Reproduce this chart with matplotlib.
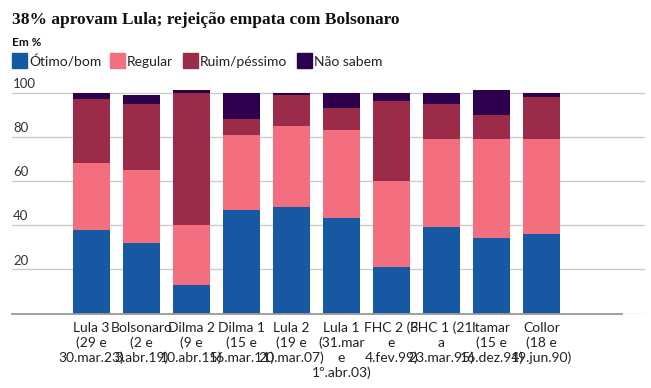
import matplotlib
matplotlib.use("Agg")
import matplotlib.pyplot as plt
from matplotlib.patches import Rectangle
import numpy as np

plt.rcParams['font.family'] = ['Lato', 'DejaVu Sans']

# dados (em %)
labels = ['Lula 3\n(29 e\n30.mar.23)', 'Bolsonaro\n(2 e\n3.abr.19)', 'Dilma 2\n(9 e\n10.abr.15)',
          'Dilma 1\n(15 e\n16.mar.11)', 'Lula 2\n(19 e\n20.mar.07)', 'Lula 1\n(31.mar\ne\n1º.abr.03)',
          'FHC 2 (3\ne\n4.fev.99)', 'FHC 1 (21\na\n23.mar.95)', 'Itamar\n(15 e\n16.dez.94)',
          'Collor\n(18 e\n19.jun.90)']
otimo = [38, 32, 13, 47, 48, 43, 21, 39, 34, 36]
regular = [30, 33, 27, 34, 37, 40, 39, 40, 45, 43]
ruim = [29, 30, 60, 7, 14, 10, 36, 16, 11, 19]
nao_sabem = [3, 4, 1, 12, 1, 7, 4, 5, 11, 2]

series = [('Ótimo/bom', otimo, '#1659a2'),
          ('Regular', regular, '#f36f80'),
          ('Ruim/péssimo', ruim, '#9c2b4a'),
          ('Não sabem', nao_sabem, '#2d004d')]

W, H = 651, 388
fig = plt.figure(figsize=(W / 100, H / 100), dpi=100)
ax = fig.add_axes([12 / W, 1 - 313.5 / H, 633 / W, 225.4 / H])

x = np.arange(len(labels))
bottom = np.zeros(len(labels))
for name, vals, col in series:
    ax.bar(x, vals, 0.74, bottom=bottom, color=col, zorder=3)
    bottom += np.array(vals)

ax.set_xlim((12 - 91.5) / 50, (645 - 91.5) / 50)
ax.set_ylim(0, 102)

for s in ax.spines.values():
    s.set_visible(False)
ax.set_yticks([])
ax.set_xticks(x)
ax.set_xticklabels(labels, fontsize=10, color='#222222', linespacing=1.25)
ax.tick_params(axis='x', length=0, pad=6)

for v in [0, 20, 40, 60, 80, 100]:
    ax.axhline(v, color='#cccccc', lw=1, zorder=1)
    if v > 0:
        ax.text(0.0015, v + 1.2, str(v), transform=ax.get_yaxis_transform(),
                fontsize=9.5, color='#333333', va='bottom', ha='left')
ax.plot([0, (622 - 12) / 633], [0, 0], transform=ax.get_yaxis_transform(),
        color='#999999', lw=1.3, zorder=4, clip_on=False)

fig.text(12 / W, 1 - 20 / H, '38% aprovam Lula; rejeição empata com Bolsonaro',
         family='Liberation Serif', fontweight='bold', fontsize=12.5, color='#111111', va='center')
fig.text(12 / W, 1 - 43 / H, 'Em %', fontsize=8.5, fontweight='bold', color='#111111', va='center')

leg_x = [12, 110, 183, 297]
for (name, vals, col), lx in zip(series, leg_x):
    fig.patches.append(Rectangle((lx / W, 1 - 68 / H), 15 / W, 15 / H,
                                 transform=fig.transFigure, color=col))
    fig.text((lx + 17) / W, 1 - 62 / H, name, fontsize=10, color='#222222', va='center')

fig.savefig('out.png', dpi=100)
